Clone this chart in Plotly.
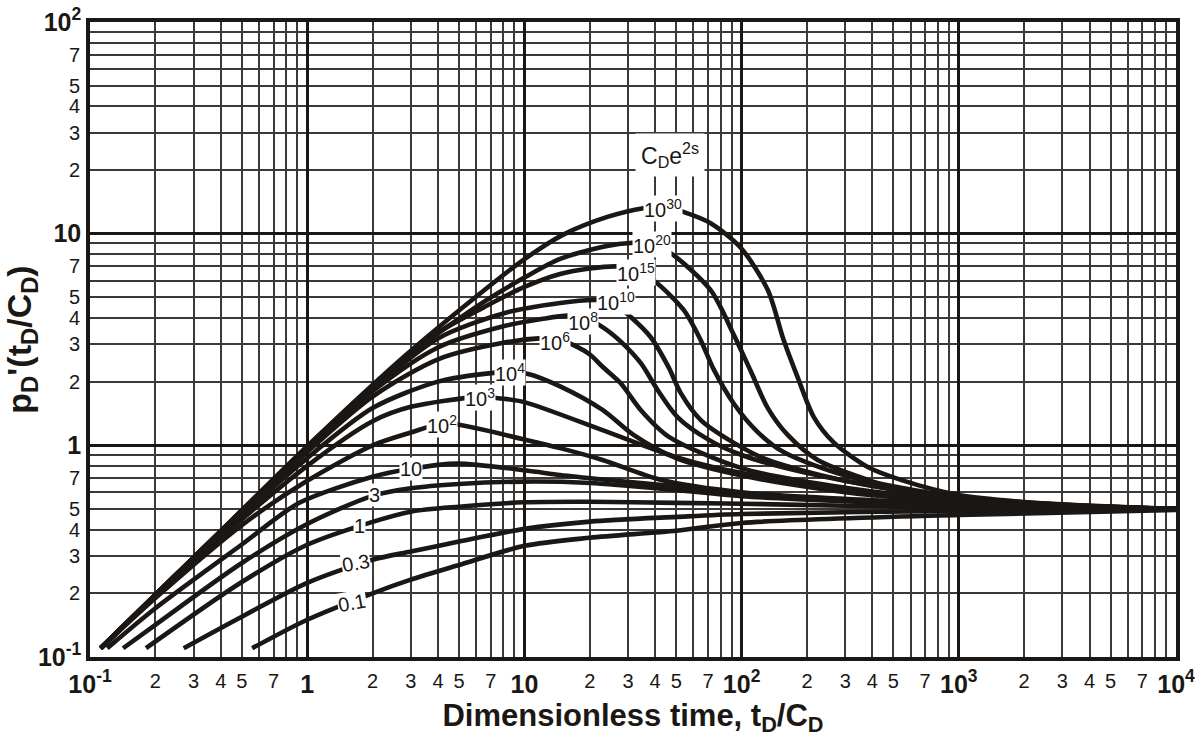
import numpy as np
import plotly.graph_objects as go

# Bourdet derivative type curves, p_D'(t_D/C_D) vs t_D/C_D, one per C_D e^2s
curve_names = ["10<sup>30</sup>", "10<sup>20</sup>", "10<sup>15</sup>", "10<sup>10</sup>",
               "10<sup>8</sup>", "10<sup>6</sup>", "10<sup>4</sup>", "10<sup>3</sup>",
               "10<sup>2</sup>", "10", "3", "1", "0.3", "0.1"]

t_1e30 = [0.112, 0.3, 1, 2, 3, 6.27, 9.9, 15.1, 24.1, 35.3, 44, 53.5, 72, 98.9, 132, 156, 181, 215, 266, 381, 541, 1000, 2000, 5000, 10000]
p_1e30 = [0.11, 0.295, 0.99, 1.93, 2.8, 5.23, 7.52, 9.9, 12.0, 13.2, 13.4, 12.7, 11.2, 8.6, 5.42, 3.15, 2.10, 1.36, 1.03, 0.79, 0.687, 0.583, 0.54, 0.51, 0.5]

t_1e20 = [0.112, 0.3, 1, 2, 3, 6.27, 10, 14.6, 24, 30.8, 38, 47.1, 71.9, 91.8, 110, 132, 163, 224, 381, 541, 1000, 2000, 10000]
p_1e20 = [0.11, 0.295, 0.98, 1.9, 2.72, 4.65, 6.2, 7.6, 8.75, 9.04, 9.0, 8.1, 5.42, 3.35, 2.25, 1.5, 1.12, 0.853, 0.687, 0.615, 0.565, 0.53, 0.5]

t_1e15 = [0.112, 0.3, 1, 2, 4, 6.27, 10, 14.6, 20, 26.9, 33, 40.2, 54.1, 64.7, 74.3, 91.8, 118.6, 156, 300, 1000, 10000]
p_1e15 = [0.11, 0.295, 0.97, 1.88, 3.4, 4.4, 5.6, 6.45, 6.85, 7.0, 6.7, 5.91, 4.36, 3.15, 2.29, 1.58, 1.155, 0.929, 0.72, 0.57, 0.5]

t_1e10 = [0.112, 0.3, 1, 2, 4, 8, 14.6, 20.8, 25, 30.8, 38.1, 46.1, 52.4, 64.7, 91.8, 132, 300, 1000, 10000]
p_1e10 = [0.11, 0.295, 0.96, 1.85, 3.2, 4.2, 4.7, 4.86, 4.8, 4.05, 3.25, 2.34, 1.77, 1.32, 1.03, 0.853, 0.68, 0.56, 0.5]

t_1e8 = [0.112, 0.3, 1, 2, 4, 8, 12, 15.8, 19, 22.9, 27.7, 34.3, 41, 50.7, 69.7, 100, 200, 1000, 10000]
p_1e8 = [0.11, 0.295, 0.95, 1.8, 2.9, 3.65, 3.95, 4.1, 4.0, 3.62, 3.1, 2.45, 1.83, 1.36, 1.07, 0.9, 0.74, 0.56, 0.5]

t_1e6 = [0.112, 0.3, 1, 2, 4, 8, 12.1, 14, 17.5, 20.1, 22.9, 27.7, 34.3, 46.1, 100, 300, 1000, 10000]
p_1e6 = [0.11, 0.295, 0.93, 1.7, 2.55, 3.05, 3.21, 3.2, 2.92, 2.68, 2.35, 1.97, 1.47, 1.10, 0.78, 0.63, 0.55, 0.5]

t_1e4 = [0.112, 0.3, 1, 2, 4, 7.2, 8.6, 10.3, 14.6, 22.9, 31.8, 50, 100, 300, 1000, 10000]
p_1e4 = [0.11, 0.29, 0.87, 1.5, 2.0, 2.2, 2.22, 2.18, 1.9, 1.47, 1.12, 0.87, 0.72, 0.6, 0.54, 0.5]

t_1e3 = [0.112, 0.3, 1, 2, 3, 6.1, 8, 10, 22.9, 50, 100, 1000, 10000]
p_1e3 = [0.11, 0.285, 0.8, 1.3, 1.52, 1.69, 1.66, 1.6, 1.18, 0.88, 0.74, 0.54, 0.5]

t_1e2 = [0.112, 0.2, 0.5, 1, 2, 3, 4.1, 5, 10.2, 14.6, 22.9, 42.4, 100, 1000, 10000]
p_1e2 = [0.11, 0.19, 0.42, 0.68, 1.0, 1.15, 1.26, 1.25, 1.06, 0.97, 0.853, 0.687, 0.6, 0.53, 0.5]

t_10 = [0.12, 0.2, 0.5, 0.92, 2, 3, 4.9, 10.2, 14.6, 22.9, 50, 100, 1000, 10000]
p_10 = [0.11, 0.17, 0.34, 0.535, 0.71, 0.775, 0.82, 0.76, 0.724, 0.69, 0.64, 0.59, 0.52, 0.5]

t_3 = [0.142, 0.2, 0.5, 1, 2, 3, 5, 10, 20, 50, 100, 1000, 10000]
p_3 = [0.11, 0.142, 0.278, 0.425, 0.577, 0.627, 0.657, 0.674, 0.664, 0.615, 0.575, 0.52, 0.5]

t_1 = [0.181, 0.5, 1, 2, 3, 5, 10, 20, 50, 100, 1000, 10000]
p_1 = [0.11, 0.226, 0.339, 0.435, 0.486, 0.513, 0.538, 0.541, 0.535, 0.53, 0.507, 0.5]

t_03 = [0.27, 0.5, 1, 2, 3, 5, 10, 20, 50, 100, 1000, 10000]
p_03 = [0.11, 0.155, 0.224, 0.288, 0.315, 0.351, 0.403, 0.436, 0.459, 0.474, 0.49, 0.5]

t_01 = [0.558, 1, 2, 3, 5, 10, 20, 50, 100, 1000, 10000]
p_01 = [0.11, 0.15, 0.2, 0.232, 0.272, 0.335, 0.366, 0.395, 0.43, 0.469, 0.495]

curve_t = [t_1e30, t_1e20, t_1e15, t_1e10, t_1e8, t_1e6, t_1e4, t_1e3, t_1e2, t_10, t_3, t_1, t_03, t_01]
curve_p = [p_1e30, p_1e20, p_1e15, p_1e10, p_1e8, p_1e6, p_1e4, p_1e3, p_1e2, p_10, p_3, p_1, p_03, p_01]

# where each curve's C_D e^2s value is written on it
label_t = [43.3, 38.5, 32.5, 26.3, 18.7, 13.9, 8.6, 6.27, 4.19, 3.01, 2.04, 1.75, 1.68, 1.60]
label_p = [13.1, 8.93, 6.59, 4.8, 3.86, 3.1, 2.22, 1.69, 1.26, 0.775, 0.583, 0.416, 0.278, 0.18]
label_tilt = [0, 0, 0, 0, 0, 0, 0, 0, 0, 0, 0, 0, -10, -10]

# axis ticks
decade_vals = [0.1, 1, 10, 100, 1000, 10000]
decade_text_x = ["10<sup>-1</sup>", "1", "10", "10<sup>2</sup>", "10<sup>3</sup>", "10<sup>4</sup>"]
ydecade_vals = [0.1, 1, 10, 100]
decade_text_y = ["10<sup>-1</sup>", "1", "10", "10<sup>2</sup>"]
sub_digits = [2, 3, 4, 5, 7]
all_digits = [2, 3, 4, 5, 6, 7, 8, 9]

INK = "#1b1714"
FONT = "Liberation Sans"


def sub_ticks(decades, digits):
    vals, text = [], []
    for d in decades:
        for k in digits:
            vals.append(d * k)
            text.append(str(k))
    return vals, text


xminor_vals, _ = sub_ticks(decade_vals[:-1], all_digits)
yminor_vals, _ = sub_ticks(ydecade_vals[:-1], all_digits)
xsub_vals, xsub_text = sub_ticks(decade_vals[:-1], sub_digits)
ysub_vals, ysub_text = sub_ticks(ydecade_vals[:-1], sub_digits)

fig = go.Figure()

for t, p in zip(curve_t, curve_p):
    fig.add_trace(go.Scatter(
        x=t, y=p, mode="lines",
        line=dict(color=INK, width=4.6, shape="spline", smoothing=0.8),
        showlegend=False, hoverinfo="skip"))

# carrier trace for the secondary (digit-label) axes
fig.add_trace(go.Scatter(x=[None], y=[None], xaxis="x2", yaxis="y2",
                         showlegend=False, hoverinfo="skip"))

annotations = []
for name, t, p, ang in zip(curve_names, label_t, label_p, label_tilt):
    annotations.append(dict(
        x=np.log10(t), y=np.log10(p), xref="x", yref="y", text=name,
        showarrow=False, bgcolor="white", borderpad=0, textangle=ang,
        font=dict(family=FONT, size=20, color=INK)))

annotations.append(dict(
    x=np.log10(46.8), y=np.log10(23.5), xref="x", yref="y",
    text="C<sub>D</sub>e<sup>2s</sup>", showarrow=False, bgcolor="white",
    borderpad=5, font=dict(family=FONT, size=23, color=INK)))

axis_common = dict(
    type="log", showgrid=True, gridcolor=INK, gridwidth=3,
    showline=True, linecolor=INK, linewidth=3.5, mirror=True,
    ticks="", zeroline=False, automargin=False,
)

fig.update_layout(
    width=1201, height=749,
    margin=dict(l=90, r=25, t=22, b=92),
    paper_bgcolor="white", plot_bgcolor="white",
    font=dict(family=FONT, color=INK),
    xaxis=dict(
        **axis_common, range=[-1, 4],
        tickvals=decade_vals, ticktext=["<b>%s</b>" % s for s in decade_text_x],
        tickfont=dict(family=FONT, size=25, color=INK),
        ticklabelstandoff=2,
        minor=dict(tickvals=xminor_vals, showgrid=True, gridcolor="#3c3a38", gridwidth=1.5, ticks=""),
        title=dict(text="<b>Dimensionless time, t<sub>D</sub>/C<sub>D</sub></b>",
                   font=dict(family=FONT, size=31, color=INK), standoff=5),
    ),
    yaxis=dict(
        **axis_common, range=[-1, 2],
        tickvals=ydecade_vals, ticktext=["<b>%s</b>" % s for s in decade_text_y],
        tickfont=dict(family=FONT, size=25, color=INK),
        ticklabelstandoff=0,
        minor=dict(tickvals=yminor_vals, showgrid=True, gridcolor="#3c3a38", gridwidth=1.5, ticks=""),
        title=dict(text="<b>p<sub>D</sub>'(t<sub>D</sub>/C<sub>D</sub>)</b>",
                   font=dict(family=FONT, size=34, color=INK), standoff=2),
    ),
    xaxis2=dict(
        type="log", range=[-1, 4], overlaying="x", anchor="y", side="bottom",
        tickvals=xsub_vals, ticktext=xsub_text, showgrid=False, showline=False,
        zeroline=False, ticks="", automargin=False, ticklabelstandoff=10,
        tickfont=dict(family=FONT, size=20, color=INK),
    ),
    yaxis2=dict(
        type="log", range=[-1, 2], overlaying="y", anchor="x", side="left",
        tickvals=ysub_vals, ticktext=ysub_text, showgrid=False, showline=False,
        zeroline=False, ticks="", automargin=False, ticklabelstandoff=9,
        tickfont=dict(family=FONT, size=20, color=INK),
    ),
    annotations=annotations,
)

fig.write_html("out.html")
